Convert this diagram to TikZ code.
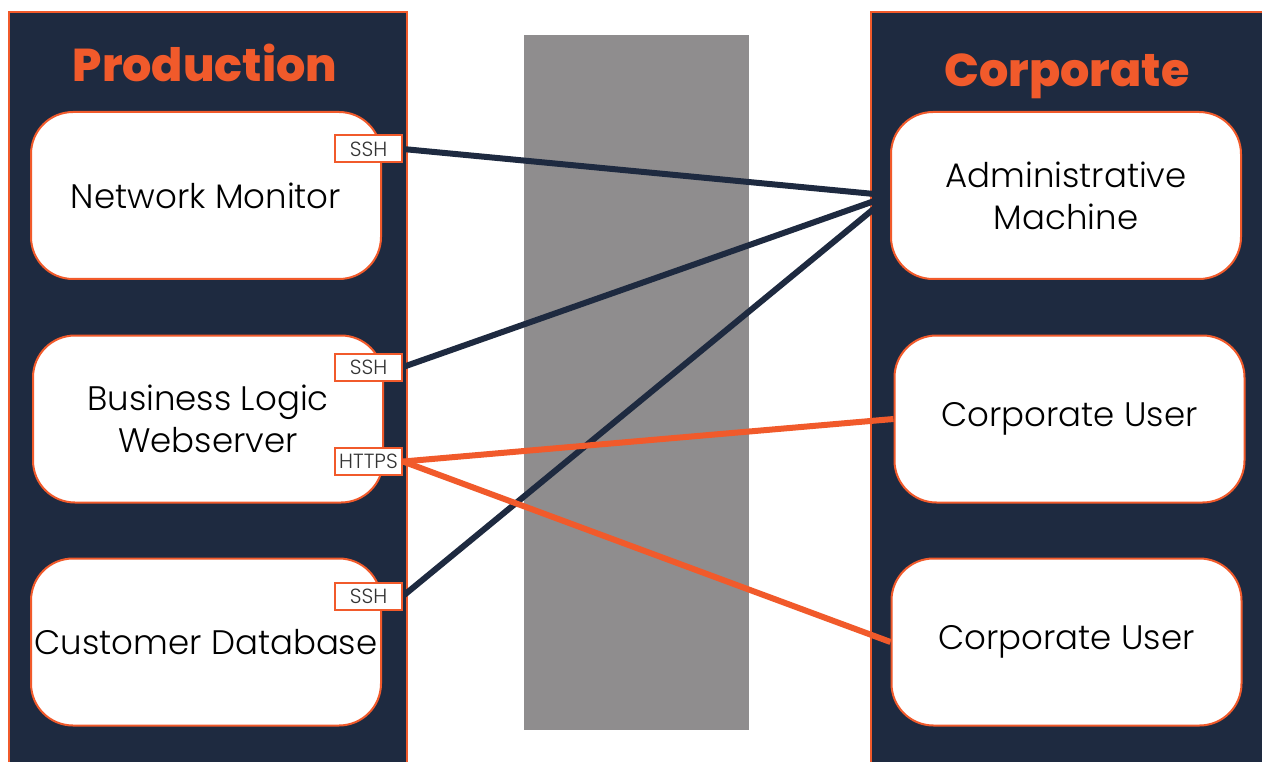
\documentclass[tikz,border=0pt]{standalone}
\usepackage{fontspec}
\setmainfont{Poppins}
\newfontfamily\hostfont{Poppins Light}
\newfontfamily\titlefont{Poppins ExtraBold}
\definecolor{navy}{HTML}{1E2A40}
\definecolor{accent}{HTML}{F15A2B}
\definecolor{wall}{HTML}{8F8D8E}
\pgfdeclarelayer{backdrop}
\pgfdeclarelayer{links}
\pgfsetlayers{backdrop,links,main}
\begin{document}
\begin{tikzpicture}[x=1pt,y=-1pt,
  zonefill/.style={fill=navy},
  zoneedge/.style={draw=accent,line width=2pt},
  host/.style={draw=accent,fill=white,line width=2pt,rounded corners=42pt,
    minimum width=350pt,minimum height=167pt,inner sep=0pt,align=center,
    text=black,font=\hostfont\fontsize{34}{42}\selectfont},
  port/.style={draw=accent,fill=white,line width=2pt,minimum width=67pt,
    minimum height=27pt,inner sep=0pt,text=black!80,
    font=\hostfont\fontsize{20.5}{22}\selectfont},
  zonetitle/.style={text=accent,anchor=base,
    font=\titlefont\fontsize{46}{52}\selectfont},
  sshlink/.style={draw=navy,line width=6pt},
  weblink/.style={draw=accent,line width=6pt}]
\useasboundingbox (0,0) rectangle (1262,762);

% zones and the wall between them
\begin{pgfonlayer}{backdrop}
  \fill[white] (0,0) rectangle (1262,762);
  \fill[zonefill] (9,12) rectangle (407,762);
  \draw[zoneedge] (9,762) -- (9,12) -- (407,12) -- (407,762);
  \fill[zonefill] (871,12) rectangle (1262,762);
  \draw[zoneedge] (871,762) -- (871,12) -- (1262,12);
  \fill[wall] (524,35) rectangle (749,730);
\end{pgfonlayer}

% zone titles
\node[zonetitle] (prod) at (205,82) {Production};
\node[zonetitle] (corp) at (1067,87) {Corporate};

% production hosts
\node[host] (nm)  at (206,195.5) {Network Monitor};
\node[host] (blw) at (208,419) {Business Logic\\Webserver};
\node[host] (cdb) at (206,642) {Customer Database};

% corporate hosts
\node[host] (adm) at (1066,195.5) {Administrative\\Machine};
\node[host] (cu1) at (1069.5,419) {Corporate User};
\node[host] (cu2) at (1066.5,642) {Corporate User};

% service ports
\node[port] (ssh1)  at (368.5,149) {SSH};
\node[port] (ssh2)  at (368.5,367) {SSH};
\node[port] (https) at (368.5,461.5) {HTTPS};
\node[port] (ssh3)  at (368.5,596) {SSH};

% connections across the wall
\begin{pgfonlayer}{links}
  \draw[sshlink] (ssh1.east) -- (adm.west);
  \draw[sshlink] (ssh2.east) -- (adm.west);
  \draw[sshlink] (ssh3.east) -- (adm.west);
  \draw[weblink] (https.east) -- (cu1.west);
  \draw[weblink] (https.east) -- (cu2.west);
\end{pgfonlayer}
\end{tikzpicture}
\end{document}
